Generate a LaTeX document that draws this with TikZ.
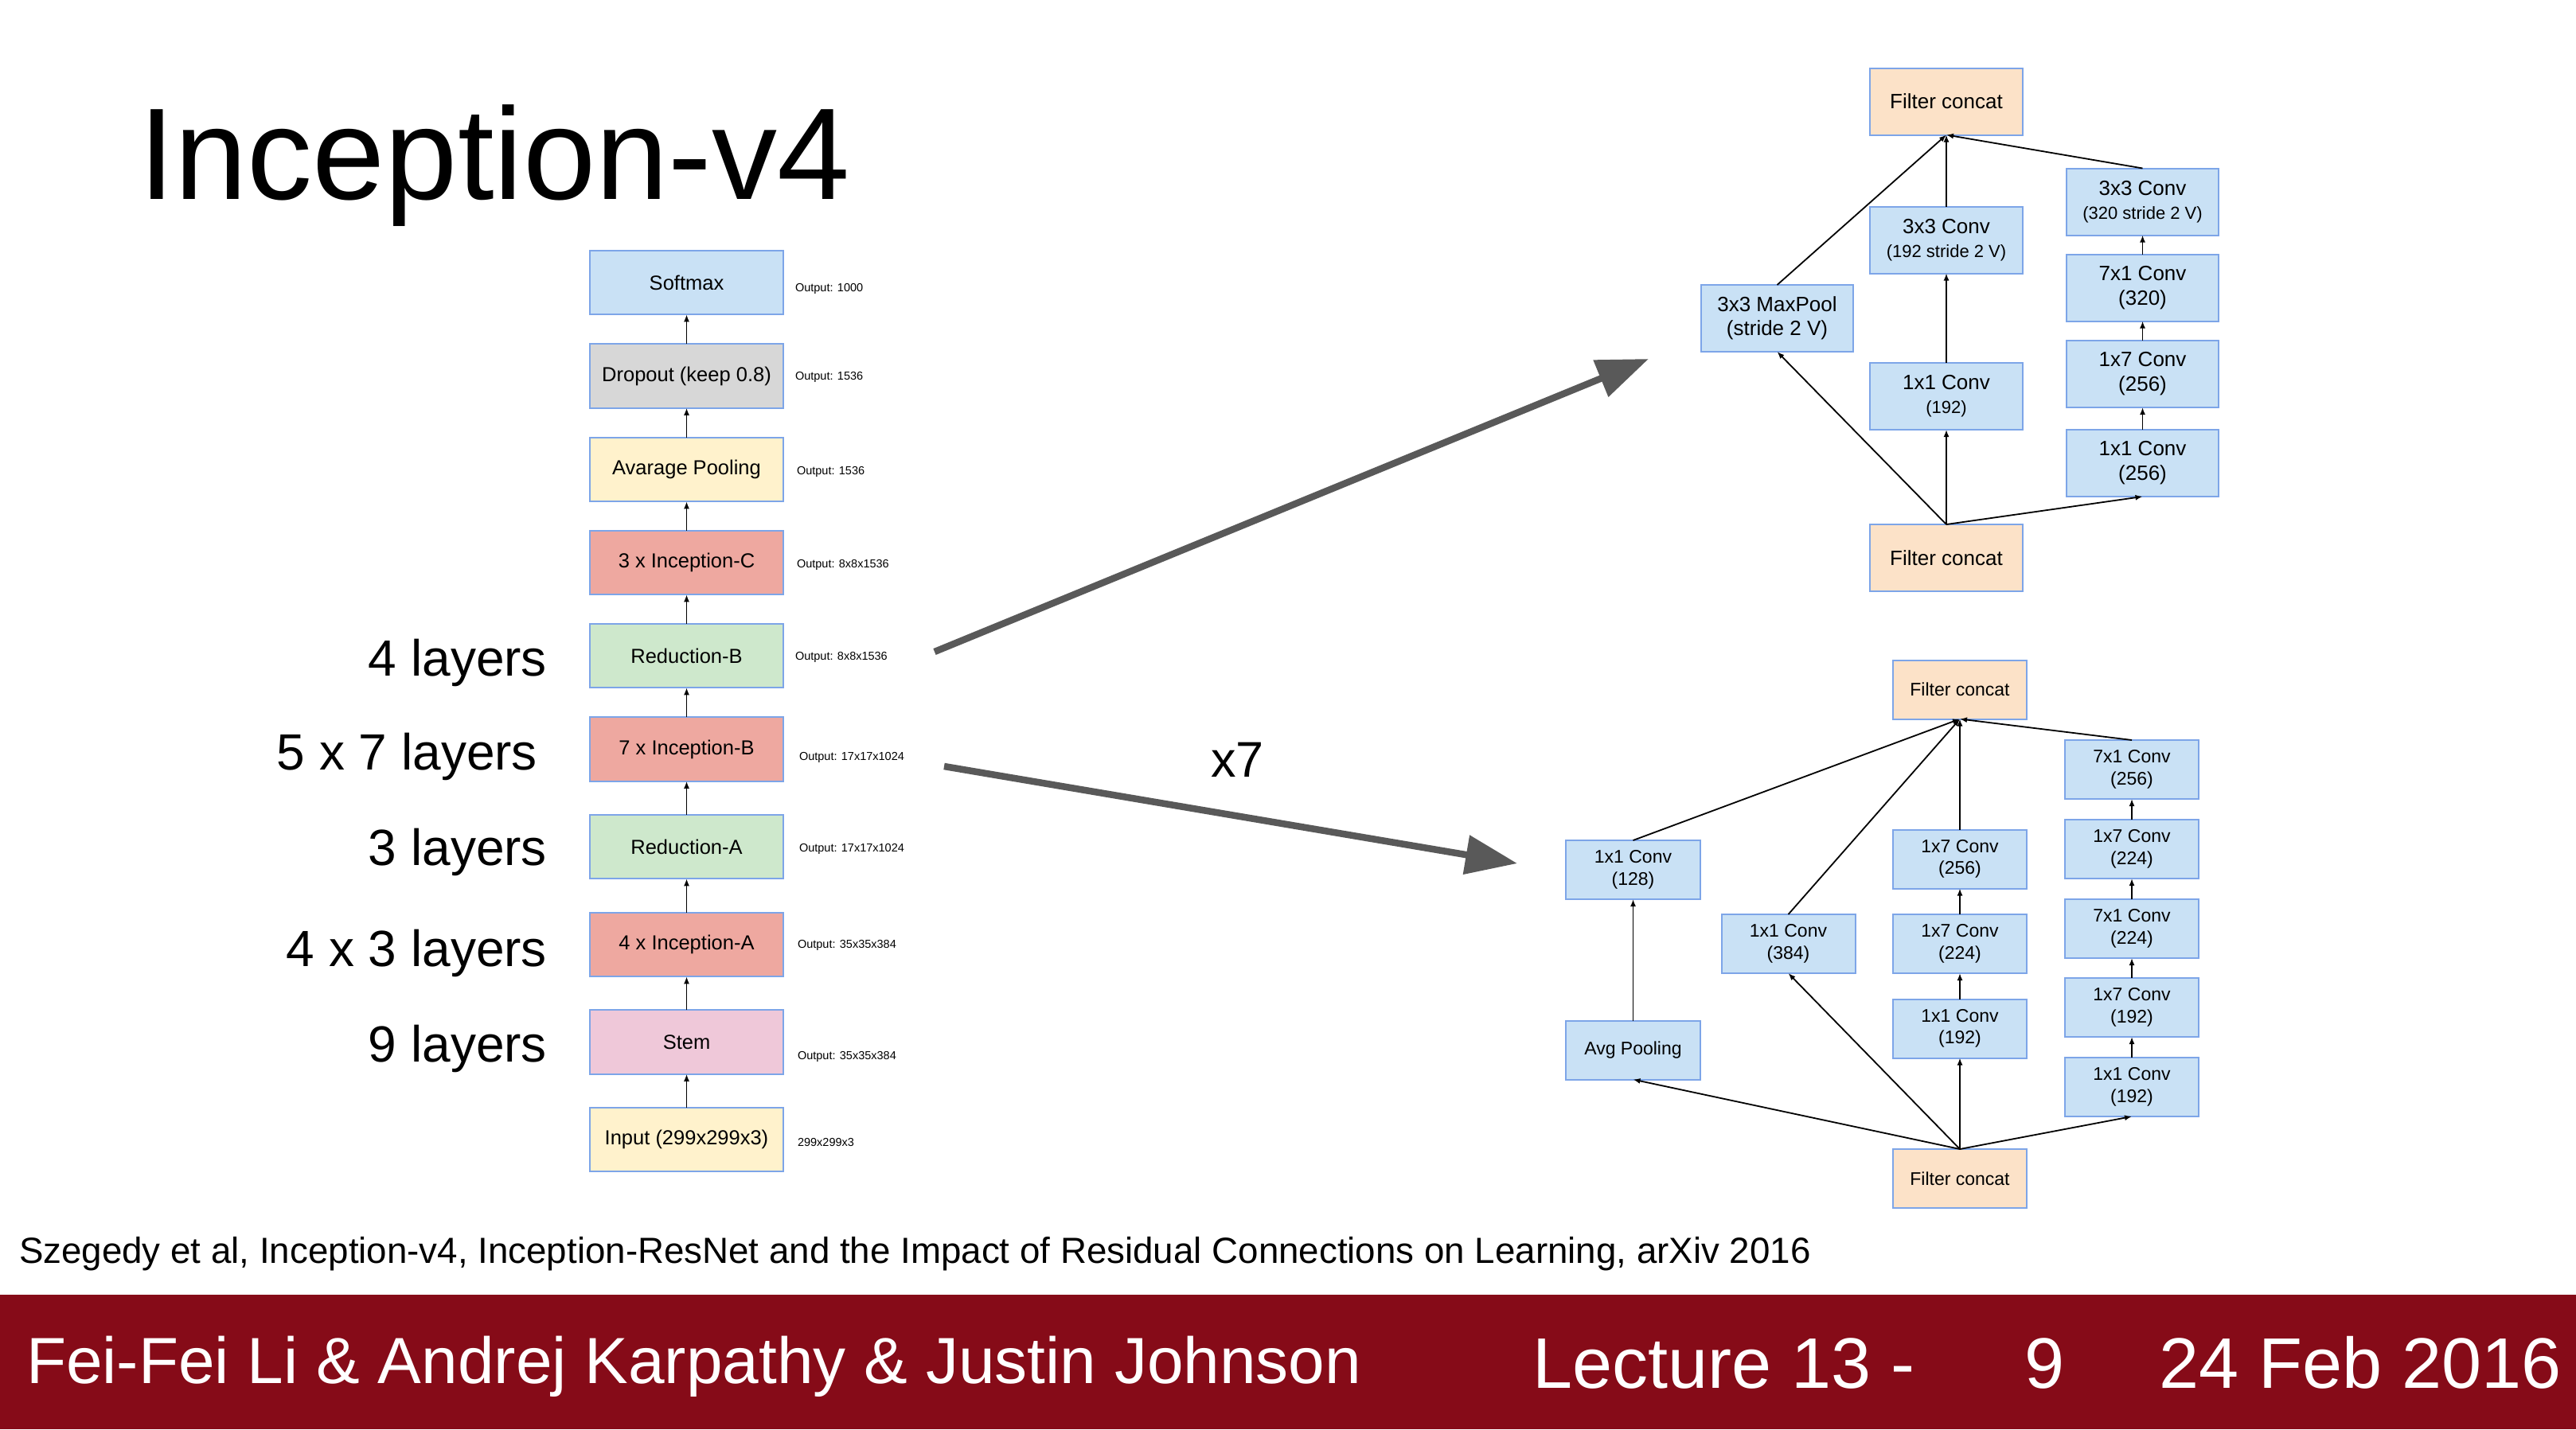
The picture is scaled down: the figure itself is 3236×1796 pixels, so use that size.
\documentclass[tikz,border=0pt]{standalone}
\usepackage{fontspec}
\setmainfont{Liberation Sans}
\usetikzlibrary{arrows.meta}

\newcommand\fsz[2]{\fontsize{#1}{#2}\selectfont}

\definecolor{boxedge}{RGB}{125,165,232}
\definecolor{convblue}{RGB}{201,225,245}
\definecolor{peach}{RGB}{252,226,200}
\definecolor{dropgray}{RGB}{215,215,215}
\definecolor{paleyellow}{RGB}{255,242,204}
\definecolor{incred}{RGB}{238,168,160}
\definecolor{redgreen}{RGB}{206,232,204}
\definecolor{stempink}{RGB}{239,200,217}
\definecolor{arrowgray}{RGB}{89,89,89}
\definecolor{footred}{RGB}{134,11,24}

\begin{document}
\begin{tikzpicture}[x=1pt,y=-1pt,
  every node/.style={inner sep=0pt,outer sep=0pt},
  blk/.style={draw=boxedge,line width=2pt,minimum width=243pt,minimum height=80.5pt,font=\fsz{25.5}{30}},
  outlbl/.style={anchor=west,font=\fsz{14.5}{17}},
  laylbl/.style={anchor=base east,font=\fsz{64}{76}},
  modbox/.style={draw=boxedge,line width=2pt,fill=convblue,align=center},
  modT/.style={modbox,minimum width=192pt,minimum height=84pt,font=\fsz{26}{30}},
  modB/.style={modbox,minimum width=168pt,minimum height=74pt,font=\fsz{23}{27.5}},
  conn/.style={line width=1.8pt,-{Latex[length=9pt,width=7pt]}},
  bigarrow/.style={draw=arrowgray,line width=8.5pt,-{Triangle[length=65pt,width=48pt]}}
]
\useasboundingbox (0,0) rectangle (3236,1796);
\fill[white] (0,0) rectangle (3236,1796);

% title
\node[anchor=base west,font=\fsz{164}{192}] (title) at (174,250) {Inception-v4};

% ---------- network overview (left column) ----------
\node[blk,fill=convblue]   (softmax) at (862.5,355)   {Softmax};
\node[blk,fill=dropgray]   (dropout) at (862.5,472.5) {Dropout (keep 0.8)};
\node[blk,fill=paleyellow] (avgpool) at (862.5,590)   {Avarage Pooling};
\node[blk,fill=incred]     (incC)    at (862.5,707)   {3 x Inception-C};
\node[blk,fill=redgreen]   (redB)    at (862.5,824)   {Reduction-B};
\node[blk,fill=incred]     (incB)    at (862.5,941.5) {7 x Inception-B};
\node[blk,fill=redgreen]   (redA)    at (862.5,1064)  {Reduction-A};
\node[blk,fill=incred]     (incA)    at (862.5,1187)  {4 x Inception-A};
\node[blk,fill=stempink]   (stem)    at (862.5,1309.5){Stem};
\node[blk,fill=paleyellow] (input)   at (862.5,1432)  {Input (299x299x3)};

\foreach \lo/\hi in {input/stem,stem/incA,incA/redA,redA/incB,incB/redB,redB/incC,incC/avgpool,avgpool/dropout,dropout/softmax}
  \draw[conn] (\lo) -- (\hi);

% output sizes
\node[outlbl] (o1)  at (999,363)    {Output: 1000};
\node[outlbl] (o2)  at (999,474)    {Output: 1536};
\node[outlbl] (o3)  at (1001,593)   {Output: 1536};
\node[outlbl] (o4)  at (1001,709.5) {Output: 8x8x1536};
\node[outlbl] (o5)  at (999,826)    {Output: 8x8x1536};
\node[outlbl] (o6)  at (1004,952)   {Output: 17x17x1024};
\node[outlbl] (o7)  at (1004,1066.5){Output: 17x17x1024};
\node[outlbl] (o8)  at (1002,1188)  {Output: 35x35x384};
\node[outlbl] (o9)  at (1002,1328)  {Output: 35x35x384};
\node[outlbl] (o10) at (1002,1435)  {299x299x3};

% layer counts
\node[laylbl] (l1) at (687,849)  {4 layers};
\node[laylbl] (l2) at (675,967)  {5 x 7 layers};
\node[laylbl] (l3) at (687,1087) {3 layers};
\node[laylbl] (l4) at (687,1214) {4 x 3 layers};
\node[laylbl] (l5) at (687,1334) {9 layers};

% ---------- Reduction-B module ----------
\node[modT,fill=peach] (tcTop) at (2445,127.5) {Filter concat};
\node[modT,fill=peach] (tcBot) at (2445,701)   {Filter concat};
\node[modT] (t3x3a) at (2445,301.5) {3x3 Conv\\\fsz{22}{27}(192 stride 2 V)};
\node[modT] (t1x1a) at (2445,498)   {1x1 Conv\\\fsz{22}{27}(192)};
\node[modT,minimum width=191pt] (tPool) at (2232.5,400) {3x3 MaxPool\\(stride 2 V)};
\node[modT,minimum width=191pt] (t3x3b) at (2691.5,253.5) {3x3 Conv\\\fsz{22}{28}(320 stride 2 V)};
\node[modT,minimum width=191pt,font=\fsz{26}{31}] (t7x1)  at (2691.5,361.5) {7x1 Conv\\(320)};
\node[modT,minimum width=191pt,font=\fsz{26}{31}] (t1x7)  at (2691.5,470)   {1x7 Conv\\(256)};
\node[modT,minimum width=191pt,font=\fsz{26}{31}] (t1x1b) at (2691.5,582)   {1x1 Conv\\(256)};

\draw[conn] (tcBot.north) -- (tPool.south);
\draw[conn] (tcBot.north) -- (t1x1a.south);
\draw[conn] (tcBot.north) -- (t1x1b.south);
\draw[conn] (t1x1a) -- (t3x3a);
\draw[conn] (t3x3a) -- (tcTop);
\draw[conn] (tPool.north) -- (tcTop.south);
\draw[conn] (t1x1b) -- (t1x7);
\draw[conn] (t1x7) -- (t7x1);
\draw[conn] (t7x1) -- (t3x3b);
\draw[conn] (t3x3b.north) -- (tcTop.south);

% ---------- Inception-B module ----------
\node[modB,fill=peach] (bcTop) at (2462,866.5) {Filter concat};
\node[modB,fill=peach] (bcBot) at (2462,1481)  {Filter concat};
\node[modB,minimum width=169pt] (b1x1a) at (2051.5,1093)   {1x1 Conv\\(128)};
\node[modB,minimum width=169pt] (bAvg)  at (2051.5,1319.5) {Avg Pooling};
\node[modB] (b1x1b) at (2246.5,1186)  {1x1 Conv\\(384)};
\node[modB] (b1x7a) at (2462,1079.5)  {1x7 Conv\\(256)};
\node[modB] (b1x7b) at (2462,1186)    {1x7 Conv\\(224)};
\node[modB] (b1x1c) at (2462,1292.5)  {1x1 Conv\\(192)};
\node[modB] (b7x1a) at (2678,967)     {7x1 Conv\\(256)};
\node[modB] (b1x7c) at (2678,1067)    {1x7 Conv\\(224)};
\node[modB] (b7x1b) at (2678,1167)    {7x1 Conv\\(224)};
\node[modB] (b1x7d) at (2678,1266)    {1x7 Conv\\(192)};
\node[modB] (b1x1d) at (2678,1366)    {1x1 Conv\\(192)};

\draw[conn] (bcBot.north) -- (bAvg.south);
\draw[conn] (bcBot.north) -- (b1x1b.south);
\draw[conn] (bcBot.north) -- (b1x1c.south);
\draw[conn] (bcBot.north) -- (b1x1d.south);
\draw[conn] (bAvg) -- (b1x1a);
\draw[conn] (b1x1a.north) -- (bcTop.south);
\draw[conn] (b1x1b.north) -- (bcTop.south);
\draw[conn] (b1x1c) -- (b1x7b);
\draw[conn] (b1x7b) -- (b1x7a);
\draw[conn] (b1x7a) -- (bcTop);
\draw[conn] (b1x1d) -- (b1x7d);
\draw[conn] (b1x7d) -- (b7x1b);
\draw[conn] (b7x1b) -- (b1x7c);
\draw[conn] (b1x7c) -- (b7x1a);
\draw[conn] (b7x1a.north) -- (bcTop.south);

% ---------- expansion arrows ----------
\coordinate (fromRedB) at (1174,819);
\coordinate (toRedBlock) at (2071,451);
\coordinate (fromIncB) at (1186,963);
\coordinate (toIncBlock) at (1906,1085);
\draw[bigarrow] (fromRedB) -- (toRedBlock);
\draw[bigarrow] (fromIncB) -- (toIncBlock);
\node[anchor=base west,font=\fsz{63}{75}] (times7) at (1521,976) {x7};

% citation
\node[anchor=base west,font=\fsz{45.7}{54}] (cite) at (24,1587)
  {Szegedy et al, Inception-v4, Inception-ResNet and the Impact of Residual Connections on Learning, arXiv 2016};

% footer bar
\fill[footred] (0,1627) rectangle (3236,1796);
\node[anchor=base west,text=white,font=\fsz{82}{96}] (authors) at (33,1738)
  {Fei-Fei Li \& Andrej Karpathy \& Justin Johnson};
\node[anchor=base west,text=white,font=\fsz{90}{104}] (lecture) at (1925,1744) {Lecture 13 -};
\node[anchor=base west,text=white,font=\fsz{90}{104}] (slide)   at (2543,1744) {9};
\node[anchor=base west,text=white,font=\fsz{90}{104}] (date)    at (2712,1744) {24 Feb 2016};
\end{tikzpicture}
\end{document}
